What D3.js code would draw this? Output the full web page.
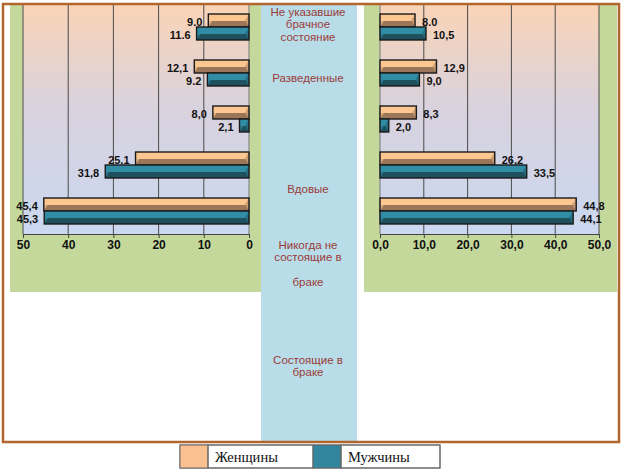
<!DOCTYPE html>
<html><head><meta charset="utf-8">
<script src="https://cdn.jsdelivr.net/npm/d3@7"></script>
<style>body{margin:0;background:#fff}svg{display:block}</style>
</head><body>
<script>
// ---- data ----
const groups = ["Не указавшие брачное состояние","Разведенные","Вдовые","Никогда не состоящие в браке","Состоящие в браке"];
const seriesNames = ["Женщины","Мужчины"];
const leftWomen = [9.0, 12.1, 8.0, 25.1, 45.4];
const leftMen   = [11.6, 9.2, 2.1, 31.8, 45.3];
const leftWomenLabels = ["9.0","12,1","8,0","25,1","45,4"];
const leftMenLabels   = ["11.6","9.2","2,1","31,8","45,3"];
const rightWomen = [8.0, 12.9, 8.3, 26.2, 44.8];
const rightMen   = [10.5, 9.0, 2.0, 33.5, 44.1];
const rightWomenLabels = ["8.0","12,9","8,3","26,2","44,8"];
const rightMenLabels   = ["10,5","9,0","2,0","33,5","44,1"];
const ticks = [0,10,20,30,40,50];
const leftTickLabels = ["0","10","20","30","40","50"];
const rightTickLabels = ["0,0","10,0","20,0","30,0","40,0","50,0"];
const middleLabelLines = [["Не указавшие","брачное","состояние"],["Разведенные"],["Вдовые"],["Никогда не","состоящие в","","браке"],["Состоящие в","браке"]];

// ---- layout ----
const W=624,H=473;
const svg=d3.select("body").append("svg").attr("width",W).attr("height",H);
const defs=svg.append("defs");
const bg=defs.append("linearGradient").attr("id","plotbg").attr("x1",0).attr("y1",0).attr("x2",0).attr("y2",1);
bg.append("stop").attr("offset","0").attr("stop-color","#FAD4B6");
bg.append("stop").attr("offset","0.45").attr("stop-color","#D9D2DE");
bg.append("stop").attr("offset","1").attr("stop-color","#CAD8F0");
const colors={w:{light:"#FBC690",dark:"#9C7659",mid:"#C89A70"},m:{light:"#318CA6",dark:"#1E505E",mid:"#266E82"}};
["w","m"].forEach(k=>{
  const g=defs.append("linearGradient").attr("id","bar"+k).attr("x1",0).attr("y1",0).attr("x2",0).attr("y2",1);
  g.append("stop").attr("offset","0").attr("stop-color",colors[k].light);
  g.append("stop").attr("offset","0.52").attr("stop-color",colors[k].light);
  g.append("stop").attr("offset","0.56").attr("stop-color",colors[k].dark);
  g.append("stop").attr("offset","1").attr("stop-color",colors[k].dark);
});

svg.append("rect").attr("width",W).attr("height",H).attr("fill","#fff");
// green panels
svg.append("rect").attr("x",10).attr("y",5).attr("width",251).attr("height",287).attr("fill","#C4D89C");
svg.append("rect").attr("x",364).attr("y",5).attr("width",253).attr("height",287).attr("fill","#C4D89C");
// blue column
svg.append("rect").attr("x",261).attr("y",5).attr("width",96).attr("height",436).attr("fill","#B8DDE8");

const yTop=4,yBot=234;
const y=d3.scaleBand().domain(groups).range([yTop,yBot]).paddingInner(0.435).paddingOuter(0.2175);
const ySub=d3.scaleBand().domain(["w","m"]).range([0,y.bandwidth()]);
const xL=d3.scaleLinear().domain([0,50]).range([249,23]);
const xR=d3.scaleLinear().domain([0,50]).range([380,599]);

function panel(x,women,men,wLab,mLab,tickLabs,dir){
  const g=svg.append("g");
  const [r0,r1]=x.range();
  g.append("rect").attr("x",Math.min(r0,r1)).attr("y",yTop).attr("width",Math.abs(r1-r0)).attr("height",yBot-yTop).attr("fill","url(#plotbg)");
  g.selectAll(".grid").data(ticks).join("line").attr("x1",d=>x(d)).attr("x2",d=>x(d))
    .attr("y1",yTop).attr("y2",yBot).attr("stroke",d=>d===0?"#777":"#4a4a4a").attr("stroke-width",1);
  const ax=g.append("g").attr("transform",`translate(0,${yBot})`)
    .call(d3.axisBottom(x).tickValues(ticks).tickSize(4).tickFormat((d,i)=>tickLabs[i]));
  ax.select(".domain").attr("stroke","#444");
  ax.selectAll(".tick line").attr("stroke","#444");
  ax.selectAll("text").attr("font-family","Liberation Sans, Arial, sans-serif").attr("font-weight","bold")
    .attr("font-size",12).attr("fill","#111").attr("dy","0.9em").attr("y",4);
  const series=[{k:"w",vals:women,labs:wLab},{k:"m",vals:men,labs:mLab}];
  series.forEach(s=>{
    s.vals.forEach((v,i)=>{
      const yy=y(groups[i])+ySub(s.k), h=ySub.bandwidth();
      const x0=x(0), x1=x(v);
      const xa=Math.min(x0,x1), w=Math.abs(x1-x0);
      const bg=g.append("g");
      bg.append("rect").attr("x",xa).attr("y",yy).attr("width",w).attr("height",h).attr("fill",`url(#bar${s.k})`);
      const b=Math.min(4,w/2);
      const xl=xa, xr=xa+w;
      bg.append("path").attr("d",`M${xr},${yy}L${xr-b},${yy+h/2}L${xr},${yy+h}Z`).attr("fill",colors[s.k].mid).attr("opacity",0.9);
      bg.append("path").attr("d",`M${xl},${yy}L${xl+b},${yy+h/2}L${xl},${yy+h}Z`).attr("fill",colors[s.k].light).attr("opacity",0.7);
      bg.append("rect").attr("x",xa).attr("y",yy).attr("width",w).attr("height",h).attr("fill","none")
        .attr("stroke","#1a1a1a").attr("stroke-width",1.4);
      g.append("text").attr("x",dir<0?x1-6:x1+7).attr("y",yy+h/2+1.5).attr("dy","0.35em")
        .attr("text-anchor",dir<0?"end":"start")
        .attr("font-family","Liberation Sans, Arial, sans-serif").attr("font-weight","bold").attr("font-size",11)
        .attr("fill","#111").text(s.labs[i]);
    });
  });
}
panel(xL,leftWomen,leftMen,leftWomenLabels,leftMenLabels,leftTickLabels,-1);
panel(xR,rightWomen,rightMen,rightWomenLabels,rightMenLabels,rightTickLabels,1);

// middle labels (positioned as in original)
const midTop=[12,78,189,245,360];
const lineH=12.3;
middleLabelLines.forEach((lines,i)=>{
  const t=svg.append("text").attr("x",308).attr("text-anchor","middle")
    .attr("font-family","Liberation Sans, Arial, sans-serif").attr("font-size",11.5).attr("fill","#9B3B38");
  lines.forEach((ln,j)=>{
    t.append("tspan").attr("x",308).attr("y",midTop[i]+j*lineH).attr("dy","0.35em").text(ln);
  });
});

// outer border
svg.append("rect").attr("x",3).attr("y",4).attr("width",616).attr("height",438).attr("fill","none")
  .attr("stroke","#B0662C").attr("stroke-width",2.5);

// legend
const lg=svg.append("g");
const legX=[180,313], swW=28;
lg.append("rect").attr("x",180).attr("y",445).attr("width",260).attr("height",23).attr("fill","#fff").attr("stroke","#666");
seriesNames.forEach((n,i)=>{
  lg.append("rect").attr("x",legX[i]).attr("y",445).attr("width",swW).attr("height",23)
    .attr("fill",i===0?"#FAC08F":"#31859C").attr("stroke","#666");
  lg.append("rect").attr("x",legX[i]+swW).attr("y",445).attr("width",(i===0?313:440)-legX[i]-swW).attr("height",23)
    .attr("fill","none").attr("stroke","#666");
  lg.append("text").attr("x",legX[i]+swW+7).attr("y",457).attr("dy","0.35em")
    .attr("font-family","Liberation Serif, Times New Roman, serif").attr("font-size",14.5).attr("fill","#111").text(n);
});
</script>
</body></html>
